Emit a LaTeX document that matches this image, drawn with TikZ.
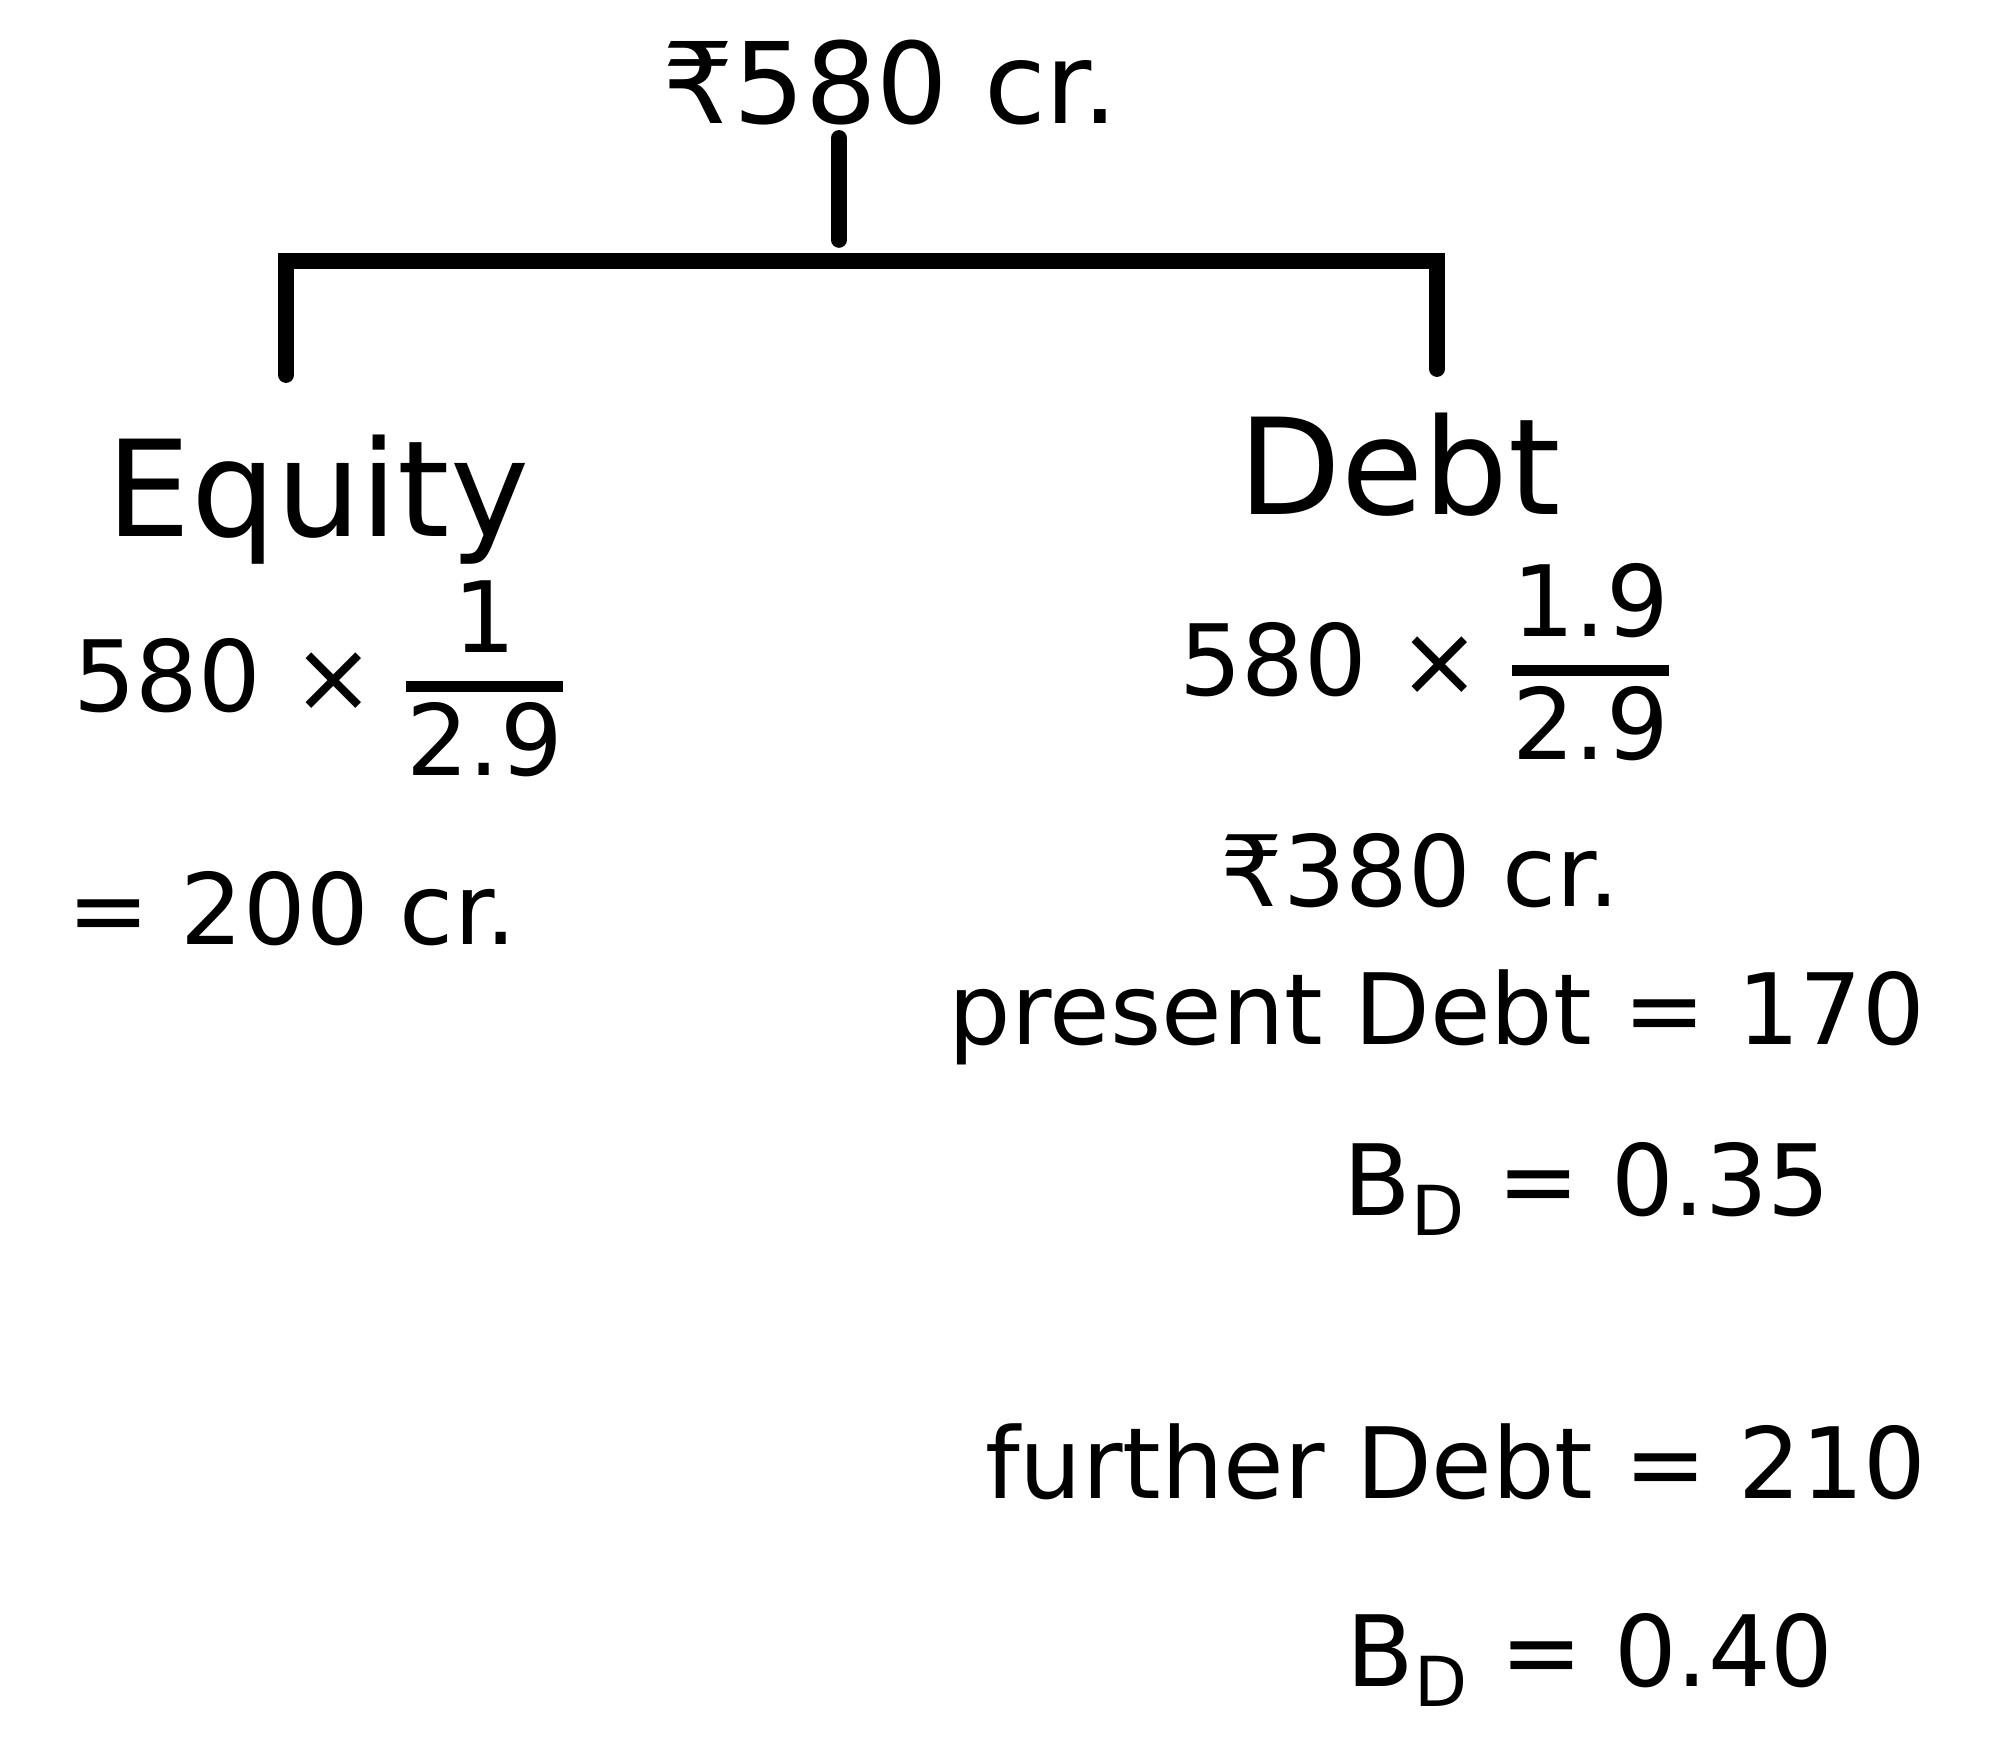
\documentclass[tikz,border=0pt]{standalone}
\usepackage{fontspec}
\setmainfont{DejaVu Sans}
\usepackage{tikz}
\newcommand{\hfrac}[2]{{\setlength{\arrayrulewidth}{3pt}%
  \begin{tabular}{@{}c@{}}#1\\[-2pt]\hline #2\end{tabular}}}

\begin{document}
\begin{tikzpicture}[x=0.01cm, y=-0.01cm,
  head/.style={font=\fontsize{38}{44}\selectfont},
  note/.style={font=\fontsize{28}{34}\selectfont},
  branch/.style={line width=4.5pt, line cap=round}]
  \useasboundingbox (0,0) rectangle (1994,1746);
  \node[note, font=\fontsize{32}{38}\selectfont] (top) at (890,83) {₹580 cr.};
  \coordinate (bar) at (839,261);
  \coordinate (eqend) at (286,375);
  \coordinate (debtend) at (1437,369);
  \node[head] (eq) at (318,500) {Equity};
  \node[head] (debt) at (1400,465) {Debt};
  \node[note] (eqfrac) at (318,690) {580 × \hfrac{1}{2.9}};
  \node[note] (eqres) at (292,909) {= 200 cr.};
  \node[note] (debtfrac) at (1424,674) {580 × \hfrac{1.9}{2.9}};
  \node[note] (debtres) at (1420,871) {₹380 cr.};
  \node[note] (pres) at (1437,1017) {present Debt = 170};
  \node[note] (bd1) at (1587,1189) {B\textsubscript{D} = 0.35};
  \node[note] (fur) at (1456,1462) {further Debt = 210};
  \node[note] (bd2) at (1590,1660) {B\textsubscript{D} = 0.40};
  \draw[branch] (top.south -| bar) -- ([yshift=6pt]bar);
  \draw[branch] (eqend) |- (bar) -| (debtend);
\end{tikzpicture}
\end{document}
